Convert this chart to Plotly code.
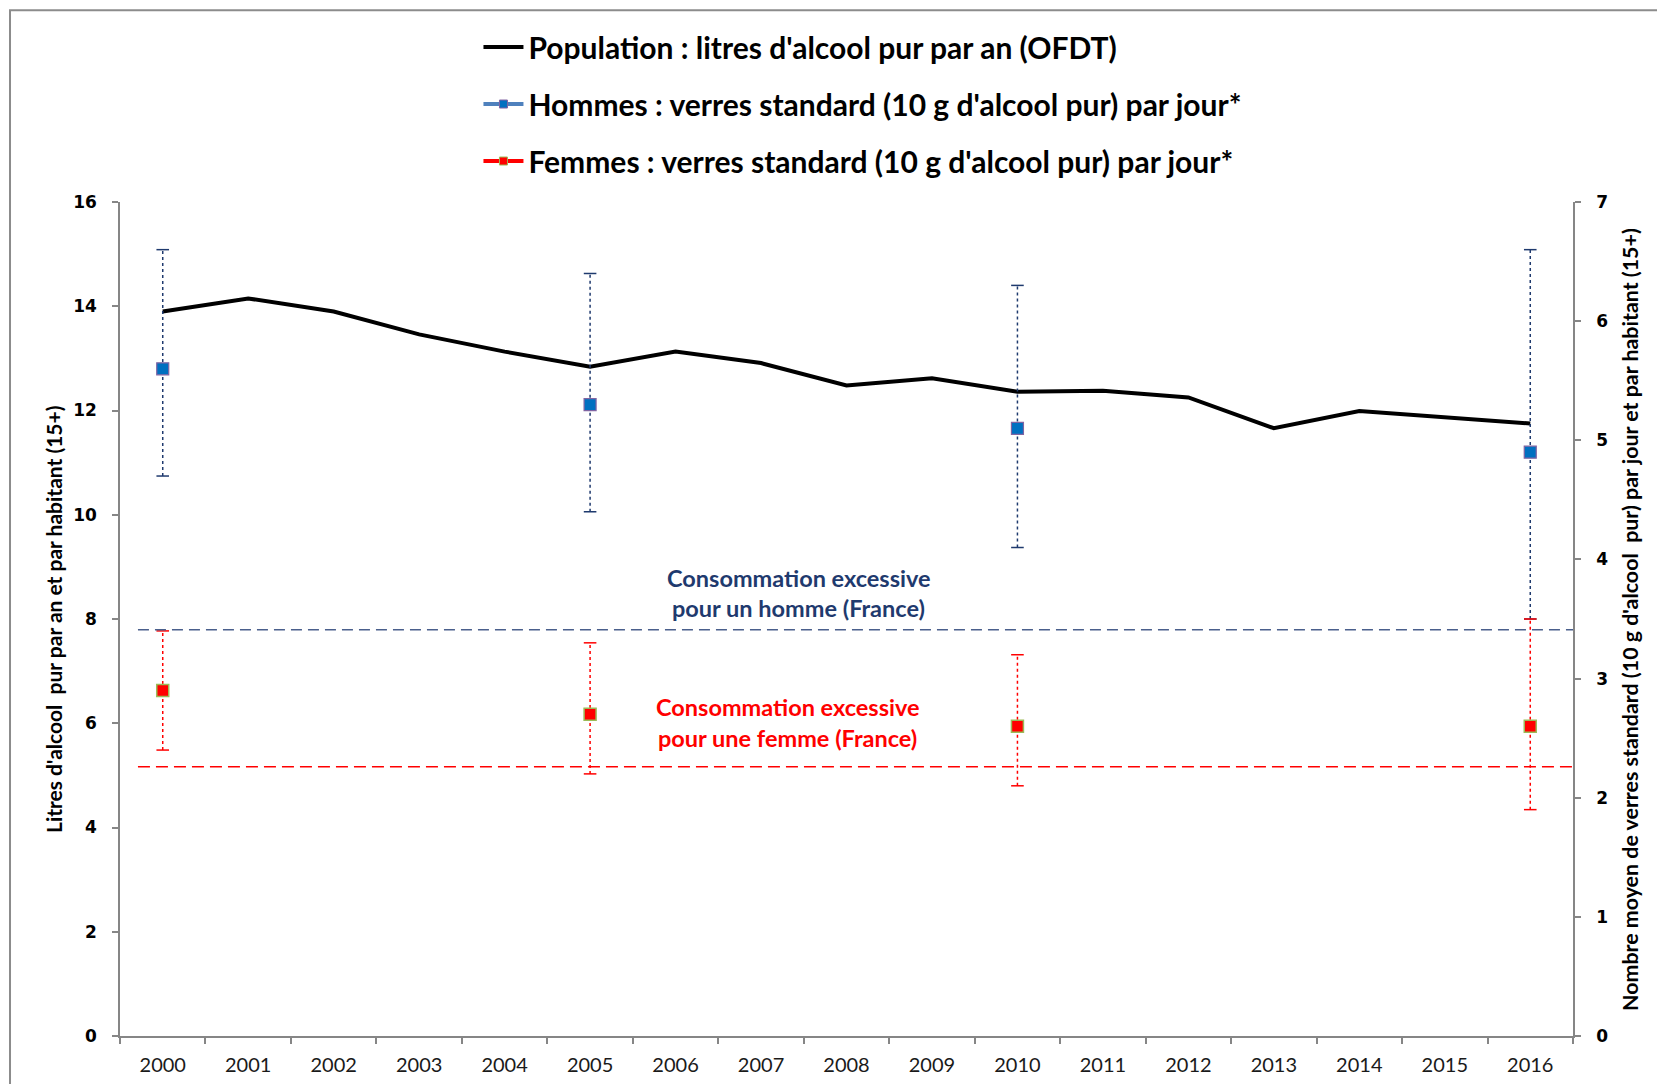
import plotly.graph_objects as go

# ---------------- data ----------------
years = [str(y) for y in range(2000, 2017)]
population_litres = [13.90, 14.15, 13.90, 13.46, 13.13, 12.84, 13.13, 12.91, 12.48,
                     12.62, 12.36, 12.38, 12.25, 11.66, 11.99, 11.87, 11.75]

survey_years = ["2000", "2005", "2010", "2016"]
hommes_verres = [5.6, 5.3, 5.1, 4.9]
hommes_haut = [6.6, 6.4, 6.3, 6.6]
hommes_bas = [4.7, 4.4, 4.1, 3.5]
femmes_verres = [2.9, 2.7, 2.6, 2.6]
femmes_haut = [3.4, 3.3, 3.2, 3.5]
femmes_bas = [2.4, 2.2, 2.1, 1.9]

seuil_homme = 3.41
seuil_femme = 2.26

legend_names = [
    "Population : litres d'alcool pur par an (OFDT)",
    "Hommes : verres standard (10 g d'alcool pur) par jour*",
    "Femmes : verres standard (10 g d'alcool pur) par jour*",
]
label_homme = ["Consommation excessive", "pour un homme (France)"]
label_femme = ["Consommation excessive", "pour une femme (France)"]
title_left = "Litres d'alcool  pur par an et par habitant (15+)"
title_right = "Nombre moyen de verres standard (10 g d'alcool  pur) par jour et par habitant (15+)"

# ---------------- style ----------------
NAVY = "#1F3A6E"
BLUE = "#0070C0"
RED = "#FF0000"
AXIS = "#868686"
CAL = "Lato, Carlito, Calibri, sans-serif"
BOLDW = "DejaVu Sans, Verdana, sans-serif"


def err_xy(xs, lo, hi):
    ex, ey = [], []
    for x, a, b in zip(xs, lo, hi):
        ex += [x, x, None]
        ey += [a, b, None]
    return ex, ey


fig = go.Figure()

# error bars (dotted)
hx, hy = err_xy(survey_years, hommes_bas, hommes_haut)
fx, fy = err_xy(survey_years, femmes_bas, femmes_haut)
fig.add_trace(go.Scatter(x=hx, y=hy, yaxis="y2", mode="lines",
                         line=dict(color=NAVY, width=1.5, dash="dot"),
                         showlegend=False, hoverinfo="skip"))
fig.add_trace(go.Scatter(x=survey_years * 2, y=hommes_haut + hommes_bas, yaxis="y2",
                         mode="markers", marker=dict(symbol="line-ew", size=9,
                                                     line=dict(color=NAVY, width=1.5)),
                         showlegend=False, hoverinfo="skip"))
fig.add_trace(go.Scatter(x=fx, y=fy, yaxis="y2", mode="lines",
                         line=dict(color=RED, width=1.5, dash="dot"),
                         showlegend=False, hoverinfo="skip"))
fig.add_trace(go.Scatter(x=survey_years * 2, y=femmes_haut + femmes_bas, yaxis="y2",
                         mode="markers", marker=dict(symbol="line-ew", size=9,
                                                     line=dict(color=RED, width=1.5)),
                         showlegend=False, hoverinfo="skip"))

# population line
fig.add_trace(go.Scatter(x=years, y=population_litres, mode="lines",
                         line=dict(color="black", width=4),
                         name=legend_names[0], legendgroup="a"))

# men / women markers
fig.add_trace(go.Scatter(x=survey_years, y=hommes_verres, yaxis="y2", mode="markers",
                         marker=dict(symbol="square", size=12, color=BLUE,
                                     line=dict(color="#8064A2", width=1.2)),
                         showlegend=False))
fig.add_trace(go.Scatter(x=survey_years, y=femmes_verres, yaxis="y2", mode="markers",
                         marker=dict(symbol="square", size=12, color=RED,
                                     line=dict(color="#9BBB59", width=1.5)),
                         showlegend=False))

# legend-only entries
fig.add_trace(go.Scatter(x=[None], y=[None], yaxis="y2", mode="lines+markers",
                         line=dict(color="#4F81BD", width=4),
                         marker=dict(symbol="square", size=8, color=BLUE,
                                     line=dict(color="#8064A2", width=1)),
                         name=legend_names[1], legendgroup="b"))
fig.add_trace(go.Scatter(x=[None], y=[None], yaxis="y2", mode="lines+markers",
                         line=dict(color=RED, width=4),
                         marker=dict(symbol="square", size=8, color=RED,
                                     line=dict(color="#9BBB59", width=1)),
                         name=legend_names[2], legendgroup="c"))

# threshold lines
fig.add_shape(type="line", xref="x", yref="y2", x0=-0.29, x1=16.5,
              y0=seuil_homme, y1=seuil_homme,
              line=dict(color="#4A5F8C", width=1.6, dash="11px,6px"))
fig.add_shape(type="line", xref="x", yref="y2", x0=-0.29, x1=16.5,
              y0=seuil_femme, y1=seuil_femme,
              line=dict(color=RED, width=1.6, dash="12px,6px"))

# chart frame
fig.add_shape(type="rect", xref="paper", yref="paper", x0=-0.0757, x1=1.3,
              y0=-0.3, y1=1.2298, line=dict(color="#8C8C8C", width=2), layer="below")

# threshold labels
homme_y = [0.5497, 0.5128]
femme_y = [0.3945, 0.3576]
for t, yy in zip(label_homme, homme_y):
    fig.add_annotation(xref="paper", yref="paper", x=0.467, y=yy,
                       text=t, showarrow=False, xanchor="center", yanchor="middle",
                       font=dict(family=CAL, size=23.5, color=NAVY, weight="bold"))
for t, yy in zip(label_femme, femme_y):
    fig.add_annotation(xref="paper", yref="paper", x=0.4597, y=yy,
                       text=t, showarrow=False, xanchor="center", yanchor="middle",
                       font=dict(family=CAL, size=23.5, color=RED, weight="bold"))

# axis titles
fig.add_annotation(xref="paper", yref="paper", x=-0.0461, y=0.5, text=title_left,
                   textangle=-90, showarrow=False, xanchor="center", yanchor="middle",
                   font=dict(family=CAL, size=21, color="black", weight="bold"))
fig.add_annotation(xref="paper", yref="paper", x=1.0392, y=0.5, text=title_right,
                   textangle=-90, showarrow=False, xanchor="center", yanchor="middle",
                   font=dict(family=CAL, size=21.4, color="black", weight="bold"))

fig.update_layout(
    width=1649, height=1076,
    margin=dict(l=112, r=84, t=194, b=48, autoexpand=False),
    paper_bgcolor="white", plot_bgcolor="white",
    showlegend=True,
    legend=dict(xref="container", yref="container", x=0.2853, y=0.9879,
                xanchor="left", yanchor="top",
                orientation="v", tracegroupgap=15,
                font=dict(family=CAL, size=30, color="black", weight="bold"),
                bgcolor="rgba(0,0,0,0)", itemwidth=40),
    xaxis=dict(type="category", categoryorder="array", categoryarray=years,
               range=[-0.5, 16.5], tickson="boundaries",
               ticks="outside", ticklen=6, tickcolor=AXIS, tickwidth=1.5,
               showline=True, linecolor=AXIS, linewidth=1.5, showgrid=False,
               zeroline=False, ticklabelstandoff=10, automargin=False,
               tickfont=dict(family=CAL, size=20, color="#1a1a1a")),
    yaxis=dict(range=[0, 16], dtick=2, ticks="outside", ticklen=6, tickcolor=AXIS,
               tickwidth=1.5, showline=True, linecolor=AXIS, linewidth=1.5,
               showgrid=False, zeroline=False, ticklabelstandoff=12, automargin=False,
               tickfont=dict(family=BOLDW, size=17, color="black", weight="bold")),
    yaxis2=dict(range=[0, 7], dtick=1, overlaying="y", side="right", ticks="outside",
                ticklen=6, tickcolor=AXIS, tickwidth=1.5, showline=True,
                linecolor=AXIS, linewidth=1.5, showgrid=False, zeroline=False,
                ticklabelstandoff=12, automargin=False,
                tickfont=dict(family=BOLDW, size=17, color="black", weight="bold")),
)

fig.write_html("out.html")
